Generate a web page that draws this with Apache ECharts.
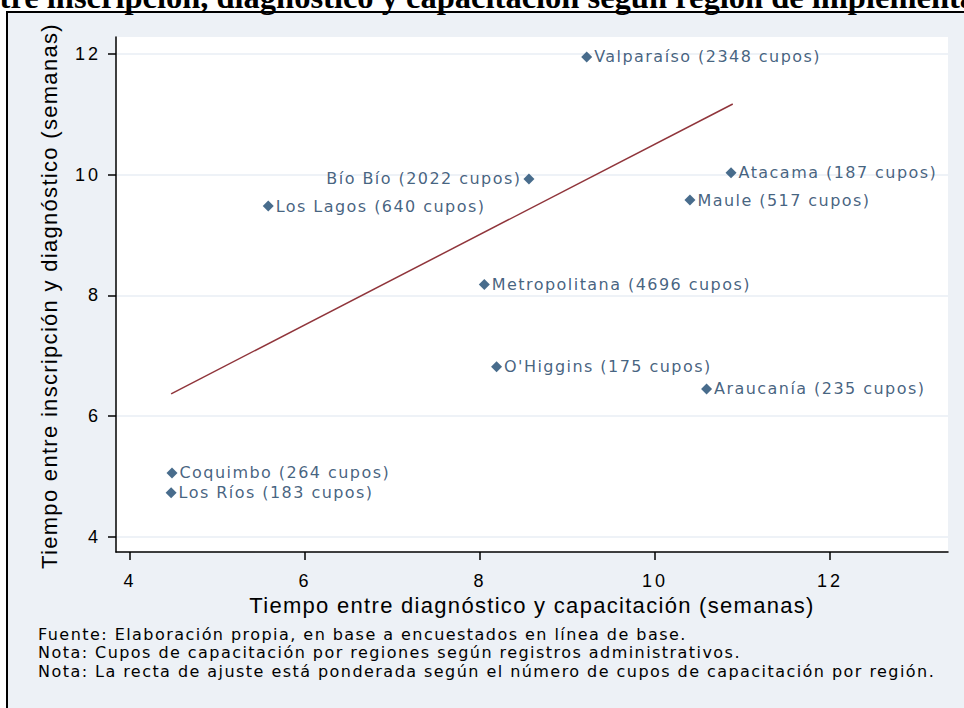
<!DOCTYPE html>
<html>
<head>
<meta charset="utf-8">
<script src="https://cdn.jsdelivr.net/npm/echarts@6/dist/echarts.min.js"></script>
<style>
  html, body { margin: 0; padding: 0; background: #fff; }
  #grafico { width: 964px; height: 708px; }
  /* el texto de Stata viene espaciado */
  #grafico text[style*="DejaVu"] { letter-spacing: 1.45px; }
  #grafico text[style*="Arial"] { letter-spacing: 1.3px; }
  #grafico text[style*="Liberation Sans"] { letter-spacing: 3px; }
</style>
</head>
<body>
<div id="grafico"></div>
<script>
// datos por región
const regiones = ['Valparaíso', 'Atacama', 'Maule', 'Bío Bío', 'Los Lagos', 'Metropolitana', "O'Higgins", 'Araucanía', 'Coquimbo', 'Los Ríos']
const cupos = [2348, 187, 517, 2022, 640, 4696, 175, 235, 264, 183]
const tiempoDiagCap = [9.22, 10.87, 10.40, 8.56, 5.58, 8.05, 8.19, 10.59, 4.48, 4.47]
const tiempoInscDiag = [11.95, 10.03, 9.58, 9.93, 9.48, 8.18, 6.82, 6.45, 5.06, 4.73]
// recta de ajuste ponderada (extremos)
const ajusteX = [4.47, 10.89]
const ajusteY = [6.37, 11.17]
const xTicks = [4, 6, 8, 10, 12]
const yTicks = [4, 6, 8, 10, 12]

const azul = '#1A476F'
const rojo = '#90353B'
const fondo = '#EDF1F6'

const puntos = regiones.map(function (r, i) {
  const p = { name: r, value: [tiempoDiagCap[i], tiempoInscDiag[i]], cupos: cupos[i] }
  if (r === 'Bío Bío') {
    p.label = { position: 'left' }
  }
  return p
})

const chart = echarts.init(document.getElementById('grafico'), null, { renderer: 'svg' })
chart.setOption({
  animation: false,
  backgroundColor: '#fff',
  graphic: [
    {
      type: 'rect',
      z: -10,
      shape: { x: 7, y: 12, width: 1000, height: 800 },
      style: { fill: fondo, stroke: '#000', lineWidth: 2 }
    },
    {
      // título recortado arriba, como en la imagen original
      type: 'text',
      x: -147,
      y: -3,
      z: 10,
      style: {
        text: 'Tiempo entre inscripción, diagnóstico y capacitación según región de implementación',
        font: 'bold 32.5px "Liberation Serif"',
        fill: '#000',
        textVerticalAlign: 'middle'
      }
    },
    {
      type: 'text',
      x: 49,
      y: 296,
      rotation: Math.PI / 2,
      style: {
        text: 'Tiempo entre inscripción y diagnóstico (semanas)',
        font: '22px Arial',
        fill: '#000',
        textAlign: 'center',
        textVerticalAlign: 'middle'
      }
    },
    {
      type: 'text',
      x: 38,
      y: 625,
      style: {
        text: 'Fuente: Elaboración propia, en base a encuestados en línea de base.\nNota: Cupos de capacitación por regiones según registros administrativos.\nNota: La recta de ajuste está ponderada según el número de cupos de capacitación por región.',
        font: '16px "DejaVu Sans"',
        lineHeight: 18.5,
        fill: '#000'
      }
    }
  ],
  grid: {
    left: 116,
    right: 16,
    top: 37,
    bottom: 156,
    show: true,
    backgroundColor: '#fff',
    borderWidth: 0
  },
  xAxis: {
    type: 'value',
    min: 3.84,
    max: 13.35,
    name: 'Tiempo entre diagnóstico y capacitación (semanas)',
    nameLocation: 'middle',
    nameGap: 40,
    nameTextStyle: { fontFamily: 'Arial', fontSize: 22, color: '#000' },
    axisLine: { onZero: false, lineStyle: { color: '#000', width: 1.5 } },
    axisTick: { customValues: xTicks, length: 8, lineStyle: { color: '#000', width: 1.5 } },
    axisLabel: { customValues: xTicks, margin: 20, fontFamily: 'Liberation Sans', fontSize: 18, color: '#000' },
    splitLine: { show: false }
  },
  yAxis: {
    type: 'value',
    min: 3.75,
    max: 12.28,
    axisLine: { show: true, onZero: false, lineStyle: { color: '#000', width: 1.5 } },
    axisTick: { show: true, customValues: yTicks, length: 8, lineStyle: { color: '#000', width: 1.5 } },
    axisLabel: { customValues: yTicks, margin: 15, fontFamily: 'Liberation Sans', fontSize: 18, color: '#000' },
    splitLine: { show: true, lineStyle: { color: '#E8EEF4', width: 1.5 } }
  },
  series: [
    {
      type: 'scatter',
      data: puntos,
      symbol: 'diamond',
      symbolSize: 11,
      itemStyle: { color: azul },
      label: {
        show: true,
        position: 'right',
        distance: 2,
        fontFamily: 'DejaVu Sans',
        fontSize: 16,
        color: '#143A60',
        formatter: function (p) {
          return p.name + ' (' + p.data.cupos + ' cupos)'
        }
      }
    },
    {
      type: 'line',
      data: [[ajusteX[0], ajusteY[0]], [ajusteX[1], ajusteY[1]]],
      symbol: 'none',
      lineStyle: { color: rojo, width: 1.5 },
      z: 1
    }
  ]
})
</script>
</body>
</html>
